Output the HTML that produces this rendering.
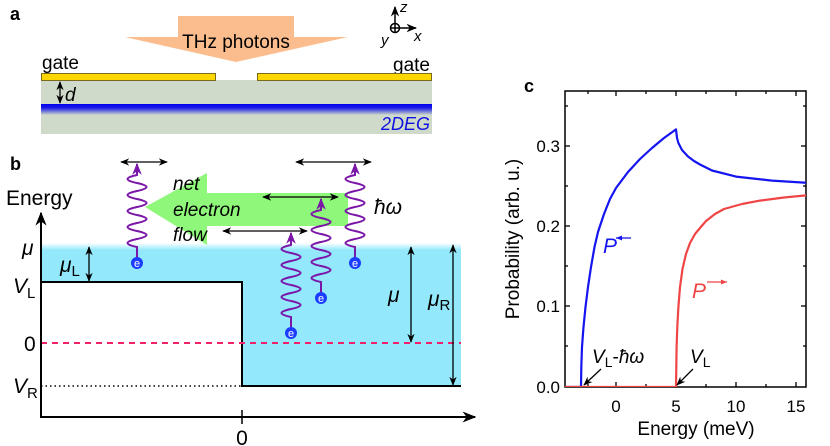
<!DOCTYPE html>
<html><head><meta charset="utf-8"><style>
body{margin:0;background:#fff;}
svg{display:block;font-family:"Liberation Sans",sans-serif;}
</style></head><body>
<svg width="830" height="446" viewBox="0 0 830 446" xmlns="http://www.w3.org/2000/svg">
<defs>
<marker id="ah" viewBox="0 0 10 10" refX="9" refY="5" markerWidth="7" markerHeight="7" orient="auto-start-reverse"><path d="M0,1 L10,5 L0,9 L3,5Z" fill="#000"/></marker>
<marker id="ap" viewBox="0 0 10 10" refX="9" refY="5" markerWidth="6" markerHeight="7" orient="auto"><path d="M0,1 L10,5 L0,9 L3,5Z" fill="#7a17a8"/></marker>
<linearGradient id="g2" x1="0" y1="0" x2="0" y2="1"><stop offset="0" stop-color="#0000ee"/><stop offset="0.35" stop-color="#1a1ae8"/><stop offset="1" stop-color="#cfdacb"/></linearGradient>
<linearGradient id="cy" x1="0" y1="0" x2="0" y2="1"><stop offset="0" stop-color="#fff"/><stop offset="0.05" stop-color="#93e8fb"/><stop offset="1" stop-color="#93e8fb"/></linearGradient>
</defs>
<!-- panel a -->
<text x="10" y="20" font-size="18" font-weight="bold">a</text>
<rect x="178" y="16" width="116" height="22" fill="#fbbd8d"/>
<polygon points="125,37 348,37 236,62" fill="#fbbd8d"/>
<text x="236" y="48" font-size="19" text-anchor="middle">THz photons</text>
<text x="42" y="69" font-size="19">gate</text>
<text x="393" y="71" font-size="19">gate</text>
<rect x="41" y="80" width="391" height="54" fill="#cfdacb"/>
<rect x="41" y="104" width="391" height="11" fill="url(#g2)"/>
<rect x="41.5" y="73.5" width="174" height="7" fill="#ffd700" stroke="#7a6a20" stroke-width="1"/>
<rect x="257.5" y="73.5" width="174" height="7" fill="#ffd700" stroke="#7a6a20" stroke-width="1"/>
<line x1="60" y1="82" x2="60" y2="103" stroke="#000" stroke-width="1.3" marker-start="url(#ah)" marker-end="url(#ah)"/>
<text x="65" y="101" font-size="19" font-style="italic">d</text>
<text x="430" y="130" font-size="18" font-style="italic" fill="#1010e0" text-anchor="end">2DEG</text>
<circle cx="395" cy="28" r="4.5" fill="none" stroke="#000" stroke-width="1.5"/>
<line x1="390" y1="28" x2="400" y2="28" stroke="#000" stroke-width="1.5"/>
<line x1="395" y1="23" x2="395" y2="33" stroke="#000" stroke-width="1.5"/>
<line x1="395" y1="24" x2="395" y2="7" stroke="#000" stroke-width="1.5" marker-end="url(#ah)"/>
<line x1="399" y1="28" x2="416" y2="28" stroke="#000" stroke-width="1.5" marker-end="url(#ah)"/>
<text x="400" y="12" font-size="15" font-style="italic">z</text>
<text x="414" y="41" font-size="15" font-style="italic">x</text>
<text x="381" y="45" font-size="15" font-style="italic">y</text>
<!-- panel b -->
<text x="10" y="170" font-size="18" font-weight="bold">b</text>
<rect x="41" y="243" width="420" height="143" fill="url(#cy)"/>
<rect x="42" y="282" width="200" height="104" fill="#fff"/>
<polyline points="41,282 242,282 242,386 461,386" fill="none" stroke="#000" stroke-width="2"/>
<line x1="41" y1="386" x2="242" y2="386" stroke="#000" stroke-width="1.5" stroke-dasharray="1.5,3"/>
<line x1="41" y1="343" x2="461" y2="343" stroke="#f0206a" stroke-width="2" stroke-dasharray="6,5"/>
<line x1="41" y1="417" x2="41" y2="213" stroke="#000" stroke-width="2" marker-end="url(#ah)"/>
<line x1="40" y1="417" x2="475" y2="417" stroke="#000" stroke-width="2" marker-end="url(#ah)"/>
<line x1="242" y1="410" x2="242" y2="424" stroke="#000" stroke-width="1.5"/>
<text x="242" y="445" font-size="21" text-anchor="middle">0</text>
<text x="6" y="205" font-size="21">Energy</text>
<text x="22" y="255" font-size="21" font-style="italic">μ</text>
<text x="13" y="293" font-size="21" font-style="italic">V<tspan font-style="normal" font-size="15" dy="5">L</tspan></text>
<text x="24" y="351" font-size="21">0</text>
<text x="13" y="393" font-size="21" font-style="italic">V<tspan font-style="normal" font-size="15" dy="5">R</tspan></text>
<text x="60" y="272" font-size="21" font-style="italic">μ<tspan font-style="normal" font-size="15" dy="4">L</tspan></text>
<line x1="89" y1="247" x2="89" y2="281" stroke="#000" stroke-width="1.3" marker-start="url(#ah)" marker-end="url(#ah)"/>
<line x1="411" y1="247" x2="411" y2="342" stroke="#000" stroke-width="1.3" marker-start="url(#ah)" marker-end="url(#ah)"/>
<text x="388" y="302" font-size="21" font-style="italic">μ</text>
<line x1="453" y1="245" x2="453" y2="385" stroke="#000" stroke-width="1.3" marker-start="url(#ah)" marker-end="url(#ah)"/>
<text x="428" y="306" font-size="21" font-style="italic">μ<tspan font-style="normal" font-size="15" dy="4">R</tspan></text>
<polygon points="145,207 207,173 207,193 348,193 348,226 207,226 207,245" fill="#8ff77a"/>
<text x="173" y="190" font-size="19" font-style="italic">net</text>
<text x="173" y="216" font-size="19" font-style="italic">electron</text>
<text x="173" y="241" font-size="19" font-style="italic">flow</text>
<text x="374" y="214" font-size="21" font-style="italic">ħω</text>
<g stroke="#000" stroke-width="1.3" marker-start="url(#ah)" marker-end="url(#ah)">
<line x1="121" y1="162" x2="167" y2="162"/>
<line x1="296" y1="162" x2="371" y2="162"/>
<line x1="263" y1="197" x2="338" y2="197"/>
<line x1="223" y1="231" x2="307" y2="231"/>
</g>
<g fill="none" stroke="#7a17a8" stroke-width="2" marker-end="url(#ap)">
<path d="M137,258 L137,247 q-19,-4 0,-8 t0,-8 t0,-8 t0,-8 t0,-8 t0,-8 t0,-8 t0,-8 t0,-8 L137,164"/>
<path d="M355,258 L355,247 q-19,-4 0,-8 t0,-8 t0,-8 t0,-8 t0,-8 t0,-8 t0,-8 t0,-8 t0,-8 L355,164"/>
<path d="M321,293 L321,282 q-19,-4 0,-8 t0,-8 t0,-8 t0,-8 t0,-8 t0,-8 t0,-8 t0,-8 t0,-8 L321,199"/>
<path d="M291,328 L291,317 q-19,-4 0,-8 t0,-8 t0,-8 t0,-8 t0,-8 t0,-8 t0,-8 t0,-8 t0,-8 L291,233"/>
</g>
<g font-size="11" fill="#fff" text-anchor="middle">
<circle cx="137" cy="263" r="6" fill="#1a3dff"/><text x="137" y="267">e</text>
<circle cx="355" cy="263" r="6" fill="#1a3dff"/><text x="355" y="267">e</text>
<circle cx="321" cy="298" r="6" fill="#1a3dff"/><text x="321" y="302">e</text>
<circle cx="291" cy="333" r="6" fill="#1a3dff"/><text x="291" y="337">e</text>
</g>
<!-- panel c -->
<text x="524" y="92" font-size="18" font-weight="bold">c</text>
<g stroke="#000" stroke-width="1.3">
<line x1="588" y1="387" x2="588" y2="384"/><line x1="616" y1="387" x2="616" y2="382"/><line x1="646" y1="387" x2="646" y2="384"/><line x1="676" y1="387" x2="676" y2="382"/><line x1="706" y1="387" x2="706" y2="384"/><line x1="736" y1="387" x2="736" y2="382"/><line x1="766" y1="387" x2="766" y2="384"/><line x1="796" y1="387" x2="796" y2="382"/>
<line x1="588" y1="91" x2="588" y2="94"/><line x1="616" y1="91" x2="616" y2="96"/><line x1="646" y1="91" x2="646" y2="94"/><line x1="676" y1="91" x2="676" y2="96"/><line x1="706" y1="91" x2="706" y2="94"/><line x1="736" y1="91" x2="736" y2="96"/><line x1="766" y1="91" x2="766" y2="94"/><line x1="796" y1="91" x2="796" y2="96"/>
<line x1="565" y1="346" x2="568" y2="346"/><line x1="565" y1="306" x2="570" y2="306"/><line x1="565" y1="266" x2="568" y2="266"/><line x1="565" y1="226" x2="570" y2="226"/><line x1="565" y1="186" x2="568" y2="186"/><line x1="565" y1="146" x2="570" y2="146"/><line x1="565" y1="106" x2="568" y2="106"/>
<line x1="806" y1="346" x2="803" y2="346"/><line x1="806" y1="306" x2="801" y2="306"/><line x1="806" y1="266" x2="803" y2="266"/><line x1="806" y1="226" x2="801" y2="226"/><line x1="806" y1="186" x2="803" y2="186"/><line x1="806" y1="146" x2="801" y2="146"/><line x1="806" y1="106" x2="803" y2="106"/>
</g>
<rect x="565" y="91" width="241" height="296" fill="none" stroke="#000" stroke-width="1.5"/>
<g font-size="17" text-anchor="end">
<text x="560" y="393">0.0</text><text x="560" y="312">0.1</text><text x="560" y="232">0.2</text><text x="560" y="152">0.3</text>
</g>
<g font-size="17" text-anchor="middle">
<text x="616" y="412">0</text><text x="676" y="412">5</text><text x="736" y="412">10</text><text x="796" y="412">15</text>
</g>
<text x="696" y="435" font-size="19" text-anchor="middle">Energy (meV)</text>
<text transform="translate(519,239) rotate(-90)" font-size="19" text-anchor="middle">Probability (arb. u.)</text>
<svg x="565" y="91" width="241" height="296" viewBox="565 91 241 296" overflow="hidden">
<path d="M565,387 L581,387 L581.3,367 L582,347 L583.5,327 L585.5,307 L588,287 L591,267 L594.5,247 L598,232 L604,214 L610,199 L616,188 L628,172 L640,159 L652,148 L664,138 L676,129.4 L677,138 L678.4,143 L682,150 L688,156.5 L694,161 L700,164.5 L712,170.5 L736,176.6 L772,180.6 L810,183" fill="none" stroke="#1515f0" stroke-width="2.2" stroke-linejoin="round"/>
<path d="M565,387 L676,387 L676.3,367 L676.6,347 L677.3,327 L678.4,307 L680,287 L682.5,269 L686,254 L690,243 L695,234 L700,228 L706,221 L715,214 L724,209 L742,204 L760,200.6 L784,197.5 L810,195" fill="none" stroke="#f04545" stroke-width="2.2" stroke-linejoin="round"/>
</svg>
<text x="603" y="253" font-size="21" font-style="italic" fill="#1515f0">P</text>
<line x1="631" y1="238" x2="616" y2="238" stroke="#1515f0" stroke-width="1.3"/>
<polygon points="616,238 622,235.5 622,240.5" fill="#1515f0"/>
<text x="692" y="298" font-size="21" font-style="italic" fill="#f04545">P</text>
<line x1="707" y1="282" x2="727" y2="282" stroke="#f04545" stroke-width="1.3"/>
<polygon points="727,282 721,279.5 721,284.5" fill="#f04545"/>
<text x="592" y="363" font-size="19" font-style="italic">V<tspan font-style="normal" font-size="14" dy="4">L</tspan><tspan font-style="normal" dy="-4">-</tspan>ħω</text>
<line x1="601" y1="369" x2="584" y2="385" stroke="#000" stroke-width="1.3" marker-end="url(#ah)"/>
<text x="690" y="363" font-size="19" font-style="italic">V<tspan font-style="normal" font-size="14" dy="4">L</tspan></text>
<line x1="693" y1="369" x2="677" y2="385" stroke="#000" stroke-width="1.3" marker-end="url(#ah)"/>
</svg>
</body></html>
